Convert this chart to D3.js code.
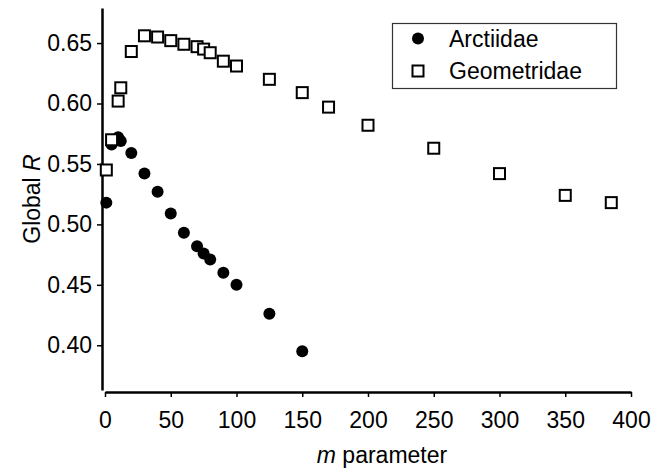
<!DOCTYPE html>
<html>
<head>
<meta charset="utf-8">
<script src="https://cdn.jsdelivr.net/npm/d3@7"></script>
<style>
  body { margin: 0; background: #fff; }
  svg { font-family: "Liberation Sans", Arial, sans-serif; }
  .axis text { font-size: 23px; fill: #000; }
</style>
</head>
<body>
<svg width="653" height="473"></svg>
<script>
// m parameter values and Global R for each family
const mArctiidae = [1, 5, 10, 12, 20, 30, 40, 50, 60, 70, 75, 80, 90, 100, 125, 150];
const rArctiidae = [0.518, 0.566, 0.572, 0.569, 0.559, 0.542, 0.527, 0.509, 0.493, 0.482, 0.476, 0.471, 0.460, 0.450, 0.426, 0.395];

const mGeometridae = [1, 5, 10, 12, 20, 30, 40, 50, 60, 70, 75, 80, 90, 100, 125, 150, 170, 200, 250, 300, 350, 385];
const rGeometridae = [0.545, 0.570, 0.602, 0.613, 0.643, 0.656, 0.655, 0.652, 0.649, 0.647, 0.645, 0.642, 0.635, 0.631, 0.620, 0.609, 0.597, 0.582, 0.563, 0.542, 0.524, 0.518];

const xTicks = [0, 50, 100, 150, 200, 250, 300, 350, 400];
const yTicks = [0.40, 0.45, 0.50, 0.55, 0.60, 0.65];
const seriesNames = ['Arctiidae', 'Geometridae'];

const svg = d3.select('svg');

let xScale = d3.scaleLinear()
                .domain([0, 400])
                .range([105, 631]);

let yScale = d3.scaleLinear()
                .domain([0.363, 0.679])
                .range([390, 8]);

// Axes
let xAxis = d3.axisBottom(xScale)
                .tickValues(xTicks)
                .tickSize(5)
                .tickSizeOuter(0)
                .tickPadding(15);
let gx = svg.append('g')
    .classed('axis', true)
    .attr('transform', 'translate(0,392)')
    .call(xAxis);
gx.select('.domain').attr('stroke', '#000').attr('stroke-width', 2.5);
gx.selectAll('.tick line').attr('stroke', '#000').attr('stroke-width', 1.5);

let yAxis = d3.axisLeft(yScale)
                .tickValues(yTicks)
                .tickFormat(d3.format('.2f'))
                .tickSize(5)
                .tickSizeOuter(0)
                .tickPadding(5);
let gy = svg.append('g')
    .classed('axis', true)
    .attr('transform', 'translate(102,0)')
    .call(yAxis);
gy.select('.domain').attr('stroke', '#000').attr('stroke-width', 2.5);
gy.selectAll('.tick line').attr('stroke', '#000').attr('stroke-width', 1.5);

// Axis titles
let xTitle = svg.append('text')
    .attr('x', 382)
    .attr('y', 463)
    .attr('text-anchor', 'middle')
    .style('font-size', '23px');
xTitle.append('tspan').style('font-style', 'italic').text('m');
xTitle.append('tspan').text(' parameter');

let yTitle = svg.append('text')
    .attr('transform', 'translate(40,199) rotate(-90)')
    .attr('text-anchor', 'middle')
    .style('font-size', '23px');
yTitle.append('tspan').text('Global ');
yTitle.append('tspan').style('font-style', 'italic').text('R');

// Points
const arct = mArctiidae.map((m, i) => ({m: m, r: rArctiidae[i]}));
const geom = mGeometridae.map((m, i) => ({m: m, r: rGeometridae[i]}));

svg.append('g')
    .selectAll('circle')
    .data(arct)
    .enter()
    .append('circle')
        .attr('cx', d => xScale(d.m))
        .attr('cy', d => yScale(d.r))
        .attr('r', 6)
        .attr('fill', '#000');

const sq = 11;
svg.append('g')
    .selectAll('rect')
    .data(geom)
    .enter()
    .append('rect')
        .attr('x', d => xScale(d.m) - sq / 2)
        .attr('y', d => yScale(d.r) - sq / 2)
        .attr('width', sq)
        .attr('height', sq)
        .attr('fill', '#fff')
        .attr('stroke', '#000')
        .attr('stroke-width', 2);

// Legend
let legend = svg.append('g');
legend.append('rect')
    .attr('x', 392.5)
    .attr('y', 23.5)
    .attr('width', 224)
    .attr('height', 65)
    .attr('fill', '#fff')
    .attr('stroke', '#333')
    .attr('stroke-width', 1.2);

legend.append('circle')
    .attr('cx', 418)
    .attr('cy', 38.5)
    .attr('r', 6)
    .attr('fill', '#000');
legend.append('rect')
    .attr('x', 418 - sq / 2)
    .attr('y', 71 - sq / 2)
    .attr('width', sq)
    .attr('height', sq)
    .attr('fill', '#fff')
    .attr('stroke', '#000')
    .attr('stroke-width', 2);

legend.selectAll('text.label')
    .data(seriesNames)
    .enter()
    .append('text')
        .classed('label', true)
        .attr('x', 449)
        .attr('y', (d, i) => [38.5, 71][i])
        .attr('dy', '0.35em')
        .style('font-size', '23px')
        .text(d => d);
</script>
</body>
</html>
